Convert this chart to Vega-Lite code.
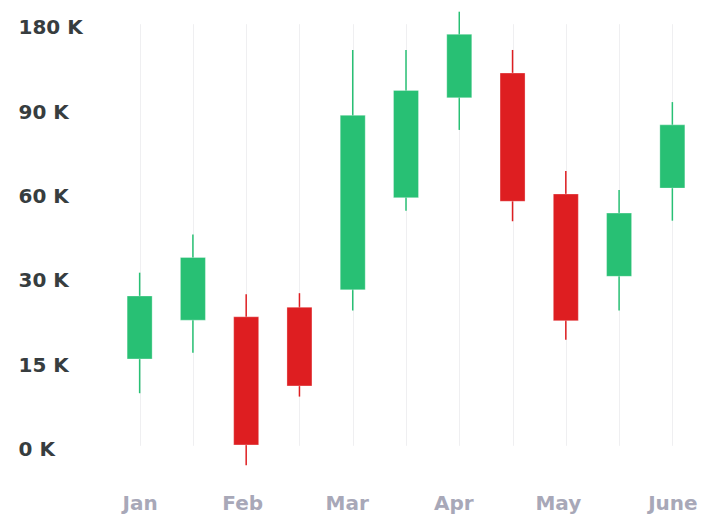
{
  "$schema": "https://vega.github.io/schema/vega-lite/v6.json",
  "width": 586,
  "height": 448,
  "autosize": {"type": "none"},
  "padding": {"left": 113, "top": 12, "right": 15, "bottom": 66},
  "background": "white",
  "config": {"view": {"stroke": null}},
  "data": {
    "values": [
      {"t": "Jan", "open": 15900, "high": 32500, "low": 9800, "close": 27100},
      {"t": "Jan-2", "open": 22800, "high": 46100, "low": 17000, "close": 37900},
      {"t": "Feb", "open": 23400, "high": 27400, "low": -3000, "close": 600},
      {"t": "Feb-2", "open": 25100, "high": 27600, "low": 9200, "close": 11100},
      {"t": "Mar", "open": 28200, "high": 155200, "low": 24500, "close": 88500},
      {"t": "Mar-2", "open": 59200, "high": 155200, "low": 54500, "close": 112100},
      {"t": "Apr", "open": 104200, "high": 196000, "low": 83300, "close": 171900},
      {"t": "Apr-2", "open": 130600, "high": 155200, "low": 50800, "close": 57900},
      {"t": "May", "open": 60500, "high": 68700, "low": 19300, "close": 22700},
      {"t": "May-2", "open": 31200, "high": 61900, "low": 24500, "close": 53700},
      {"t": "June", "open": 62600, "high": 99600, "low": 51000, "close": 85100}
    ]
  },
  "encoding": {
    "x": {
      "field": "t",
      "type": "nominal",
      "sort": null,
      "scale": {"type": "point", "padding": 0.5},
      "axis": {
        "title": null,
        "labelExpr": "indexof(datum.value, '-') >= 0 ? '' : datum.value",
        "domain": false,
        "ticks": false,
        "tickSize": 0,
        "grid": true,
        "gridColor": "#efeff1",
        "gridWidth": 1,
        "labelAngle": 0,
        "labelFont": "DejaVu Sans",
        "labelFontWeight": "bold",
        "labelFontSize": 20,
        "labelColor": "#a8a8b8",
        "labelBaseline": "alphabetic",
        "labelPadding": 49,
        "labelOverlap": false,
        "labelOffset": {
          "condition": [
            {"test": "datum.value == 'Feb'", "value": -4},
            {"test": "datum.value == 'Mar' || datum.value == 'Apr'", "value": -6},
            {"test": "datum.value == 'May'", "value": -8}
          ],
          "value": 0
        }
      }
    },
    "color": {
      "condition": {"test": "datum.close >= datum.open", "value": "#28c074"},
      "value": "#de1e21"
    }
  },
  "layer": [
    {
      "mark": {"type": "rule", "strokeWidth": 1.5},
      "encoding": {
        "y": {
          "field": "low",
          "type": "quantitative",
          "scale": {
            "type": "linear",
            "domain": [0, 15000, 30000, 60000, 90000, 180000],
            "range": [436.3, 352, 267.7, 183.4, 99.1, 14.7],
            "nice": false,
            "zero": false
          },
          "axis": {
            "title": null,
            "values": [0, 15000, 30000, 60000, 90000, 180000],
            "labelExpr": "datum.value / 1000 + ' K'",
            "domain": false,
            "ticks": false,
            "tickSize": 0,
            "grid": false,
            "labelAlign": "left",
            "labelPadding": 95,
            "labelFont": "DejaVu Sans",
            "labelFontWeight": "bold",
            "labelFontSize": 20,
            "labelColor": "#373d3f",
            "labelFlush": false,
            "labelOverlap": false,
            "labelOffset": 1
          }
        },
        "y2": {"field": "high"}
      }
    },
    {
      "mark": {"type": "bar", "width": 25, "stroke": "white", "strokeOpacity": 0.3, "strokeWidth": 1},
      "encoding": {
        "y": {
          "field": "open",
          "type": "quantitative",
          "scale": {
            "type": "linear",
            "domain": [0, 15000, 30000, 60000, 90000, 180000],
            "range": [436.3, 352, 267.7, 183.4, 99.1, 14.7],
            "nice": false,
            "zero": false
          }
        },
        "y2": {"field": "close"}
      }
    }
  ]
}
